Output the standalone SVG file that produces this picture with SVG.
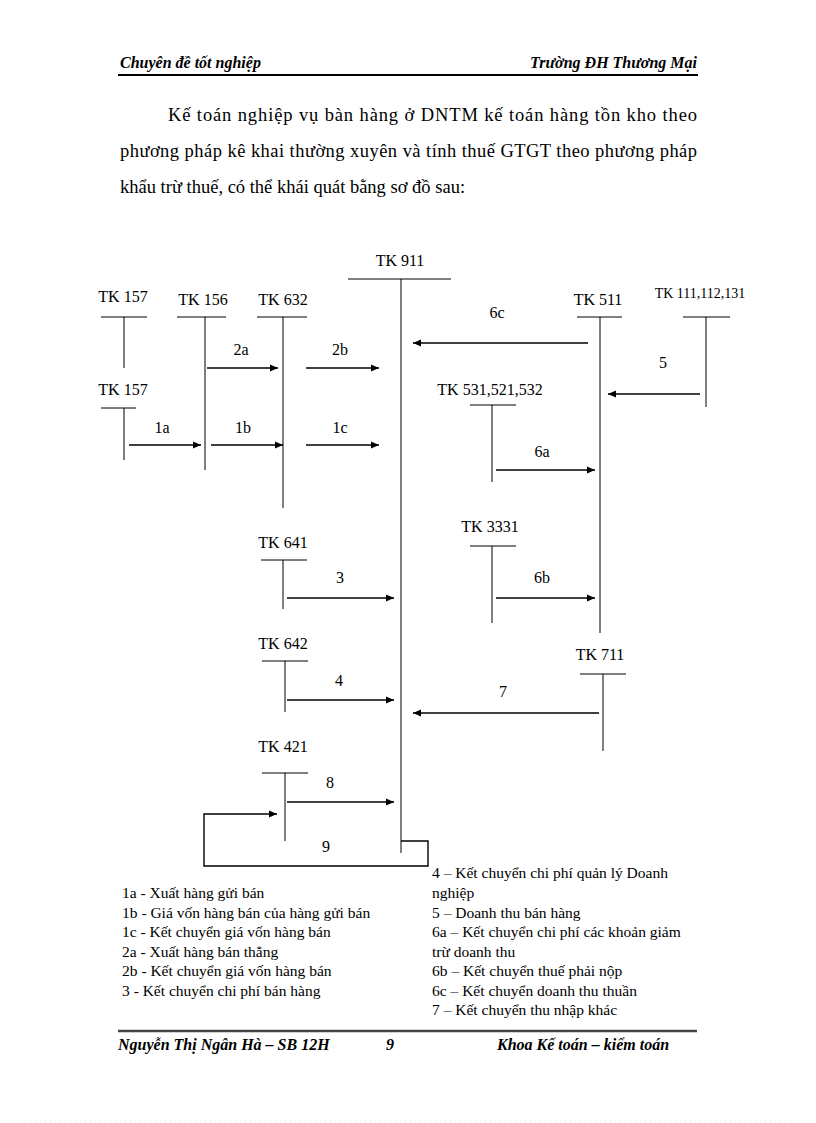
<svg xmlns="http://www.w3.org/2000/svg" width="816" height="1123" viewBox="0 0 816 1123">
<style>
.hd{font-family:"Liberation Serif","Times New Roman",serif;font-size:16px;font-weight:bold;font-style:italic;fill:#000}
.p{font-family:"Liberation Serif","Times New Roman",serif;font-size:18.5px;fill:#000}
.lb{font-family:"Liberation Serif","Times New Roman",serif;font-size:16px;fill:#000;text-anchor:middle}
.lg{font-family:"Liberation Serif","Times New Roman",serif;font-size:15.5px;fill:#000}
.ln{stroke:#000;stroke-width:1;fill:none}
.ar{stroke:#000;stroke-width:1.4;fill:none;marker-end:url(#ah)}
</style>
<defs>
<marker id="ah" markerUnits="userSpaceOnUse" markerWidth="9" markerHeight="8" refX="8" refY="4" orient="auto">
<path d="M0,0.5 L8,4 L0,7.5 z" fill="#000"/>
</marker>
</defs>
<rect width="816" height="1123" fill="#fff"/>

<g id="header">
<text class="hd" x="120" y="68">Chuyên đề tốt nghiệp</text>
<text class="hd" x="697" y="68" text-anchor="end">Trường ĐH Thương Mại</text>
<line x1="118" y1="75" x2="698" y2="75" stroke="#000" stroke-width="2"/>
</g>

<g id="paragraph">
<text class="p" x="168" y="121" textLength="529" lengthAdjust="spacing">Kế toán nghiệp vụ bàn hàng ở DNTM kế toán hàng tồn kho theo</text>
<text class="p" x="120" y="157" textLength="577" lengthAdjust="spacing">phương pháp kê khai  thường xuyên và tính thuế GTGT theo phương pháp</text>
<text class="p" x="120" y="193">khẩu trừ thuế, có thể khái  quát bằng sơ đồ sau:</text>
</g>

<g id="tk911">
<text class="lb" x="400" y="266">TK 911</text>
<line class="ln" x1="348" y1="279" x2="451" y2="279"/>
<line class="ln" x1="401" y1="279" x2="401" y2="853"/>
</g>
<g id="tk157a">
<text class="lb" x="123" y="302">TK 157</text>
<line class="ln" x1="101" y1="317" x2="147" y2="317"/>
<line class="ln" x1="124" y1="317" x2="124" y2="368"/>
</g>
<g id="tk156">
<text class="lb" x="203" y="305">TK 156</text>
<line class="ln" x1="177" y1="317" x2="226" y2="317"/>
<line class="ln" x1="205" y1="317" x2="205" y2="470"/>
</g>
<g id="tk632">
<text class="lb" x="283" y="305">TK 632</text>
<line class="ln" x1="257" y1="317" x2="307" y2="317"/>
<line class="ln" x1="283" y1="317" x2="283" y2="508"/>
</g>
<g id="tk157b">
<text class="lb" x="123" y="395">TK 157</text>
<line class="ln" x1="101" y1="408" x2="136" y2="408"/>
<line class="ln" x1="124" y1="408" x2="124" y2="460"/>
</g>
<g id="tk511">
<text class="lb" x="598" y="305">TK 511</text>
<line class="ln" x1="577" y1="317" x2="622" y2="317"/>
<line class="ln" x1="600" y1="317" x2="600" y2="633"/>
</g>
<g id="tk111">
<text class="lb" x="700" y="298" style="font-size:14px">TK 111,112,131</text>
<line class="ln" x1="683" y1="317" x2="730" y2="317"/>
<line class="ln" x1="706" y1="317" x2="706" y2="407"/>
</g>
<g id="tk531">
<text class="lb" x="490" y="395">TK 531,521,532</text>
<line class="ln" x1="470" y1="405" x2="516" y2="405"/>
<line class="ln" x1="492" y1="405" x2="492" y2="482"/>
</g>
<g id="tk3331">
<text class="lb" x="490" y="532">TK 3331</text>
<line class="ln" x1="470" y1="546" x2="516" y2="546"/>
<line class="ln" x1="492" y1="546" x2="492" y2="623"/>
</g>
<g id="tk641">
<text class="lb" x="283" y="548">TK 641</text>
<line class="ln" x1="261" y1="560" x2="307" y2="560"/>
<line class="ln" x1="283" y1="560" x2="283" y2="609"/>
</g>
<g id="tk642">
<text class="lb" x="283" y="649">TK 642</text>
<line class="ln" x1="262" y1="661" x2="308" y2="661"/>
<line class="ln" x1="285" y1="661" x2="285" y2="712"/>
</g>
<g id="tk711">
<text class="lb" x="600" y="660">TK 711</text>
<line class="ln" x1="580" y1="674" x2="626" y2="674"/>
<line class="ln" x1="603" y1="674" x2="603" y2="751"/>
</g>
<g id="tk421">
<text class="lb" x="283" y="752">TK 421</text>
<line class="ln" x1="262" y1="773" x2="308" y2="773"/>
<line class="ln" x1="285" y1="773" x2="285" y2="841"/>
</g>

<g id="connectors">
<line class="ar" x1="207" y1="368" x2="278" y2="368"/>
<text class="lb" x="241" y="355">2a</text>
<line class="ar" x1="306" y1="368" x2="379" y2="368"/>
<text class="lb" x="340" y="355">2b</text>
<line class="ar" x1="129" y1="445" x2="201" y2="445"/>
<text class="lb" x="162" y="433">1a</text>
<line class="ar" x1="211" y1="445" x2="283" y2="445"/>
<text class="lb" x="243" y="433">1b</text>
<line class="ar" x1="306" y1="445" x2="379" y2="445"/>
<text class="lb" x="340" y="433">1c</text>
<line class="ar" x1="588" y1="343" x2="413" y2="343"/>
<text class="lb" x="497" y="318">6c</text>
<line class="ar" x1="700" y1="394" x2="608" y2="394"/>
<text class="lb" x="663" y="368">5</text>
<line class="ar" x1="496" y1="470" x2="595" y2="470"/>
<text class="lb" x="542" y="457">6a</text>
<line class="ar" x1="287" y1="598" x2="394" y2="598"/>
<text class="lb" x="340" y="583">3</text>
<line class="ar" x1="496" y1="598" x2="595" y2="598"/>
<text class="lb" x="542" y="583">6b</text>
<line class="ar" x1="287" y1="700" x2="394" y2="700"/>
<text class="lb" x="339" y="686">4</text>
<line class="ar" x1="599" y1="713" x2="413" y2="713"/>
<text class="lb" x="503" y="697">7</text>
<line class="ar" x1="287" y1="802" x2="394" y2="802"/>
<text class="lb" x="330" y="788">8</text>
<path class="ar" d="M401,841 H428 V866 H204 V814 H277"/>
<text class="lb" x="326" y="852">9</text>
</g>

<g id="legend">
<text class="lg" x="122" y="898">1a - Xuất  hàng  gửi bán</text>
<text class="lg" x="122" y="917.5">1b - Giá vốn hàng  bán của hàng gửi bán</text>
<text class="lg" x="122" y="937">1c - Kết chuyển  giá vốn hàng  bán</text>
<text class="lg" x="122" y="956.5">2a - Xuất  hàng  bán thẳng</text>
<text class="lg" x="122" y="976">2b - Kết chuyển  giá vốn hàng  bán</text>
<text class="lg" x="122" y="995.5">3 - Kết chuyển  chi phí  bán hàng</text>
<text class="lg" x="432" y="878">4 – Kết chuyển  chi  phí  quản lý  Doanh</text>
<text class="lg" x="432" y="898">nghiệp</text>
<text class="lg" x="432" y="917.5">5 – Doanh  thu bán hàng</text>
<text class="lg" x="432" y="937">6a – Kết chuyển  chi  phí  các khoản giảm</text>
<text class="lg" x="432" y="956.5">trừ doanh  thu</text>
<text class="lg" x="432" y="976">6b – Kết chuyển  thuế  phải nộp</text>
<text class="lg" x="432" y="995.5">6c – Kết chuyển  doanh  thu thuần</text>
<text class="lg" x="432" y="1015">7 – Kết chuyển  thu  nhập  khác</text>
</g>

<g id="footer">
<line x1="118" y1="1031" x2="697" y2="1031" stroke="#444" stroke-width="2.5"/>
<text class="hd" x="118" y="1050">Nguyễn  Thị Ngân Hà – SB 12H</text>
<text class="hd" x="390" y="1050" text-anchor="middle">9</text>
<text class="hd" x="497" y="1050">Khoa Kế toán – kiểm toán</text>
<line x1="25" y1="1121" x2="792" y2="1121" stroke="#cfe8cf" stroke-width="1" stroke-dasharray="1 4"/>
</g>
</svg>
